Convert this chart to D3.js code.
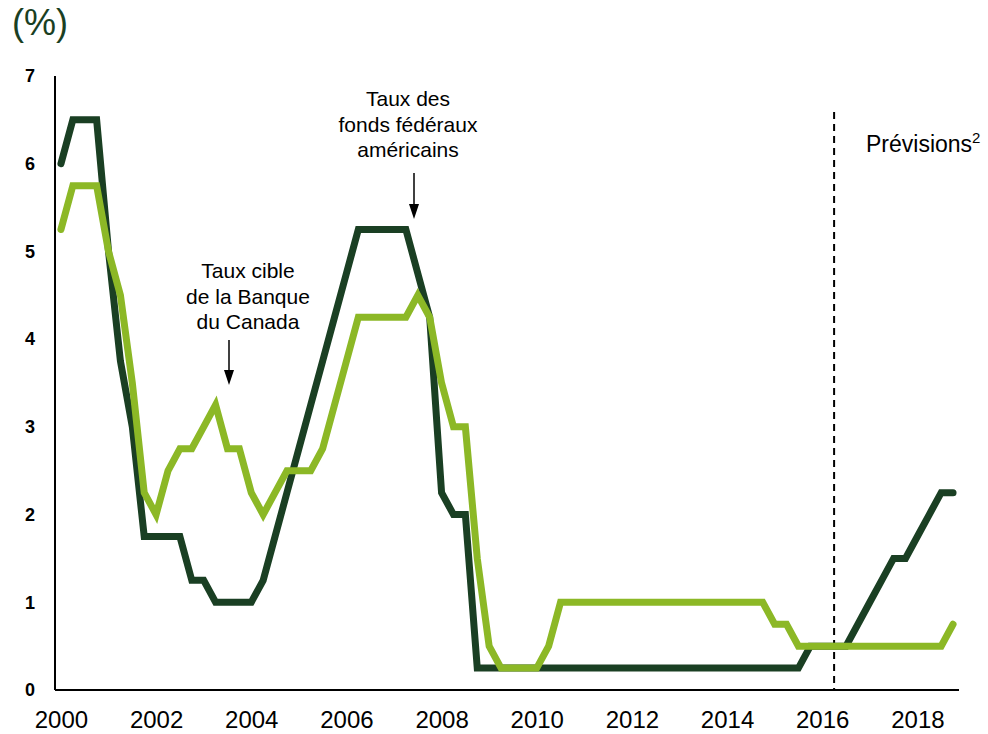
<!DOCTYPE html>
<html lang="fr">
<head>
	<meta charset="UTF-8">
	<script src="https://cdn.jsdelivr.net/npm/d3@7"></script>
	<title>Taux directeurs</title>
	<style>
		body { margin: 0; background: #fff; }
		svg { font-family: "Liberation Sans", Arial, sans-serif; }
		.y-axis text { font-size: 18px; font-weight: bold; fill: #000; }
		.x-axis text { font-size: 24px; fill: #000; }
		.axis path { stroke: #000; stroke-width: 2; }
		.note { font-size: 21px; fill: #000; }
	</style>
</head>
<body>
<div id="container"></div>
<script>
	const width = 988,
		height = 734;

	// quarters 2000T1 .. 2018T4
	const years = d3.range(2000, 2019);
	const quarters = years.flatMap(y => [1, 2, 3, 4].map(q => y + 'Q' + q));

	// taux des fonds fédéraux américains (fin de trimestre)
	const fedFunds = [
		6.0, 6.5, 6.5, 6.5,
		5.0, 3.75, 3.0, 1.75,
		1.75, 1.75, 1.75, 1.25,
		1.25, 1.0, 1.0, 1.0,
		1.0, 1.25, 1.75, 2.25,
		2.75, 3.25, 3.75, 4.25,
		4.75, 5.25, 5.25, 5.25,
		5.25, 5.25, 4.75, 4.25,
		2.25, 2.0, 2.0, 0.25,
		0.25, 0.25, 0.25, 0.25,
		0.25, 0.25, 0.25, 0.25,
		0.25, 0.25, 0.25, 0.25,
		0.25, 0.25, 0.25, 0.25,
		0.25, 0.25, 0.25, 0.25,
		0.25, 0.25, 0.25, 0.25,
		0.25, 0.25, 0.25, 0.5,
		0.5, 0.5, 0.5, 0.75,
		1.0, 1.25, 1.5, 1.5,
		1.75, 2.0, 2.25, 2.25
	];

	// taux cible de la Banque du Canada
	const bocTarget = [
		5.25, 5.75, 5.75, 5.75,
		5.0, 4.5, 3.5, 2.25,
		2.0, 2.5, 2.75, 2.75,
		3.0, 3.25, 2.75, 2.75,
		2.25, 2.0, 2.25, 2.5,
		2.5, 2.5, 2.75, 3.25,
		3.75, 4.25, 4.25, 4.25,
		4.25, 4.25, 4.5, 4.25,
		3.5, 3.0, 3.0, 1.5,
		0.5, 0.25, 0.25, 0.25,
		0.25, 0.5, 1.0, 1.0,
		1.0, 1.0, 1.0, 1.0,
		1.0, 1.0, 1.0, 1.0,
		1.0, 1.0, 1.0, 1.0,
		1.0, 1.0, 1.0, 1.0,
		0.75, 0.75, 0.5, 0.5,
		0.5, 0.5, 0.5, 0.5,
		0.5, 0.5, 0.5, 0.5,
		0.5, 0.5, 0.5, 0.75
	];

	const xTickLabels = ['2000', '2002', '2004', '2006', '2008', '2010', '2012', '2014', '2016', '2018'];
	const yTicks = [0, 1, 2, 3, 4, 5, 6, 7];
	const forecastStart = '2016Q2';

	const x = d3.scalePoint()
		.domain(quarters)
		.range([55, 959])
		.padding(0.5);

	const y = d3.scaleLinear()
		.domain([0, 7])
		.range([690, 76]);

	const svg = d3.select('#container')
		.append('svg')
		.attr('width', width)
		.attr('height', height);

	svg.append('text')
		.attr('x', 12)
		.attr('y', 35)
		.attr('font-size', 36)
		.attr('fill', '#1a3f23')
		.text('(%)');

	svg.append('g')
		.attr('class', 'axis y-axis')
		.attr('transform', 'translate(55,0)')
		.call(d3.axisLeft(y)
			.tickValues(yTicks)
			.tickFormat(d3.format('d'))
			.tickSize(0)
			.tickPadding(20)
			.tickSizeOuter(0));

	svg.append('g')
		.attr('class', 'axis x-axis')
		.attr('transform', 'translate(0,690)')
		.call(d3.axisBottom(x)
			.tickValues(xTickLabels.map(t => t + 'Q1'))
			.tickFormat(d => d.slice(0, 4))
			.tickSize(0)
			.tickPadding(21)
			.tickSizeOuter(0));

	// keep axis line from plot edge
	svg.selectAll('.axis path').attr('d', function() {
		return d3.select(this.parentNode).classed('x-axis') ? 'M55,0H959' : 'M0,690V76';
	});

	// forecast divider
	svg.append('line')
		.attr('x1', x(forecastStart))
		.attr('x2', x(forecastStart))
		.attr('y1', 112)
		.attr('y2', 690)
		.attr('stroke', '#000')
		.attr('stroke-width', 2)
		.attr('stroke-dasharray', '7,5');

	const line = d3.line()
		.x((d, i) => x(quarters[i]))
		.y(d => y(d));

	svg.append('path')
		.datum(fedFunds)
		.attr('d', line)
		.attr('fill', 'none')
		.attr('stroke', '#1a3f23')
		.attr('stroke-width', 7)
		.attr('stroke-linecap', 'round');

	svg.append('path')
		.datum(bocTarget)
		.attr('d', line)
		.attr('fill', 'none')
		.attr('stroke', '#8cb826')
		.attr('stroke-width', 7)
		.attr('stroke-linecap', 'round');

	// annotations
	function note(lines, cx, y0) {
		const t = svg.append('text')
			.attr('class', 'note')
			.attr('text-anchor', 'middle');
		lines.forEach((s, i) => {
			t.append('tspan').attr('x', cx).attr('y', y0 + i * 25.5).text(s);
		});
	}

	function arrow(ax, y1, y2) {
		svg.append('line')
			.attr('x1', ax).attr('x2', ax)
			.attr('y1', y1).attr('y2', y2 - 12)
			.attr('stroke', '#000')
			.attr('stroke-width', 1.5);
		svg.append('path')
			.attr('d', `M${ax - 5},${y2 - 15}L${ax + 5},${y2 - 15}L${ax},${y2}Z`)
			.attr('fill', '#000');
	}

	note(['Taux cible', 'de la Banque', 'du Canada'], 248, 278);
	arrow(229, 340, 385);

	note(['Taux des', 'fonds fédéraux', 'américains'], 408, 106);
	arrow(414, 173, 219);

	const prev = svg.append('text')
		.attr('x', 866)
		.attr('y', 152)
		.attr('font-size', 23)
		.attr('fill', '#000')
		.text('Prévisions');
	prev.append('tspan')
		.attr('font-size', 15)
		.attr('dy', -9)
		.text('2');
</script>
</body>
</html>
